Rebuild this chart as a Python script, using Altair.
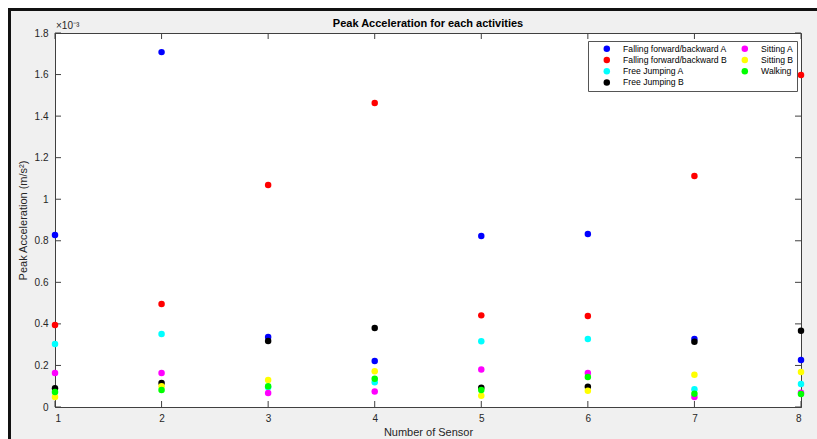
import altair as alt
import pandas as pd

sensors = [1, 2, 3, 4, 5, 6, 7, 8]
series_names = [
    "Falling forward/backward A",
    "Falling forward/backward B",
    "Free Jumping A",
    "Free Jumping B",
    "Sitting A",
    "Sitting B",
    "Walking",
]
series_colors = ["#0000ff", "#ff0000", "#00ffff", "#000000", "#ff00ff", "#ffff00", "#00ff00"]

falling_a = [0.828, 1.708, 0.337, 0.221, 0.823, 0.833, 0.327, 0.226]
falling_b = [0.395, 0.496, 1.068, 1.463, 0.441, 0.438, 1.112, 1.598]
jumping_a = [0.303, 0.351, 0.095, 0.119, 0.316, 0.327, 0.085, 0.111]
jumping_b = [0.090, 0.115, 0.318, 0.380, 0.093, 0.098, 0.314, 0.367]
sitting_a = [0.164, 0.164, 0.067, 0.075, 0.180, 0.164, 0.048, 0.069]
sitting_b = [0.048, 0.100, 0.130, 0.172, 0.054, 0.078, 0.155, 0.168]
walking = [0.072, 0.082, 0.100, 0.136, 0.082, 0.144, 0.064, 0.063]

y_ticks = [0, 0.2, 0.4, 0.6, 0.8, 1.0, 1.2, 1.4, 1.6, 1.8]
x_ticks = sensors
chart_title = "Peak Acceleration for each activities"

all_series = [falling_a, falling_b, jumping_a, jumping_b, sitting_a, sitting_b, walking]
rows = []
for i, (name, vals) in enumerate(zip(series_names, all_series)):
    for s, v in zip(sensors, vals):
        rows.append({"sensor": s, "value": v, "activity": name, "k": i})
df = pd.DataFrame(rows)

W, H = 746, 374
FONT = "Liberation Sans"
AX = "#404040"

xs = alt.Scale(domain=[1, 8], nice=False, zero=False)
ys = alt.Scale(domain=[0, 1.8], nice=False, zero=False)

points = alt.Chart(df).mark_circle(size=42, opacity=1).encode(
    x=alt.X("sensor:Q", scale=xs,
            axis=alt.Axis(values=x_ticks, format="d", title="Number of Sensor", grid=False,
                          tickSize=0, labelPadding=6, titlePadding=3, domainColor=AX,
                          labelColor="#262626", titleColor="#262626", labelFontSize=10,
                          titleFontSize=11, titleFontWeight="normal", labelFont=FONT,
                          titleFont=FONT)),
    y=alt.Y("value:Q", scale=ys,
            axis=alt.Axis(values=y_ticks, format="~g", title="Peak Acceleration (m/s²)",
                          grid=False, tickSize=0, labelPadding=7, titlePadding=6,
                          domainColor=AX, labelColor="#262626", titleColor="#262626",
                          labelFontSize=10, titleFontSize=11, titleFontWeight="normal",
                          labelFont=FONT, titleFont=FONT)),
    color=alt.Color("activity:N", scale=alt.Scale(domain=series_names, range=series_colors),
                    legend=alt.Legend(title=None, orient="none", legendX=533, legendY=8,
                                      columns=2, fillColor="white", strokeColor="#555",
                                      padding=3.5, symbolType="circle", symbolSize=42,
                                      symbolOffset=11, labelOffset=12, columnPadding=2,
                                      rowPadding=2.2, labelFontSize=8.6, labelFont=FONT,
                                      labelColor="#000", symbolStrokeWidth=0)),
    order=alt.Order("k:Q"),
)

ydf = pd.DataFrame({"t": y_ticks})
xdf = pd.DataFrame({"t": x_ticks})
tick_style = dict(color=AX, strokeWidth=1)
yl = alt.Chart(ydf).mark_rule(**tick_style).encode(y=alt.Y("t:Q", scale=ys), x=alt.value(0), x2=alt.value(6))
yr = alt.Chart(ydf).mark_rule(**tick_style).encode(y=alt.Y("t:Q", scale=ys), x=alt.value(W - 6), x2=alt.value(W))
xb = alt.Chart(xdf).mark_rule(**tick_style).encode(x=alt.X("t:Q", scale=xs), y=alt.value(H - 6), y2=alt.value(H))
xt = alt.Chart(xdf).mark_rule(**tick_style).encode(x=alt.X("t:Q", scale=xs), y=alt.value(0), y2=alt.value(6))

one = pd.DataFrame({"a": [0]})
white_top = alt.Chart(one).mark_rule(color="white", strokeWidth=8).encode(
    x=alt.value(-55), x2=alt.value(W + 20), y=alt.value(-29))
white_left = alt.Chart(one).mark_rule(color="white", strokeWidth=8).encode(
    x=alt.value(-51), y=alt.value(-33), y2=alt.value(H + 40))
black_top = alt.Chart(one).mark_rule(color="#111", strokeWidth=3).encode(
    x=alt.value(-47), x2=alt.value(W + 20), y=alt.value(-23.5))
black_left = alt.Chart(one).mark_rule(color="#111", strokeWidth=3).encode(
    x=alt.value(-45.5), y=alt.value(-25), y2=alt.value(H + 40))

mult = alt.Chart(one).mark_text(text="×10⁻³", align="left", baseline="alphabetic",
                                 fontSize=10, font=FONT, color="#262626").encode(
    x=alt.value(1), y=alt.value(-4))

title_mark = alt.Chart(one).mark_text(text=chart_title, align="center", baseline="alphabetic",
                                       fontSize=11, fontWeight="bold", font=FONT,
                                       color="#000").encode(
    x=alt.value(W / 2), y=alt.value(-6))

chart = alt.layer(
    white_top, white_left, black_top, black_left,
    yl, yr, xb, xt, points, mult, title_mark,
).properties(
    width=W, height=H,
    padding={"left": 55, "top": 33, "right": 16, "bottom": 32},
    autosize=alt.AutoSizeParams(type="none"),
    background="#f0f0f0",
).configure_view(fill="white", stroke=AX, strokeWidth=1)

chart.save("out.html", embed_options={"renderer": "svg", "actions": False})
